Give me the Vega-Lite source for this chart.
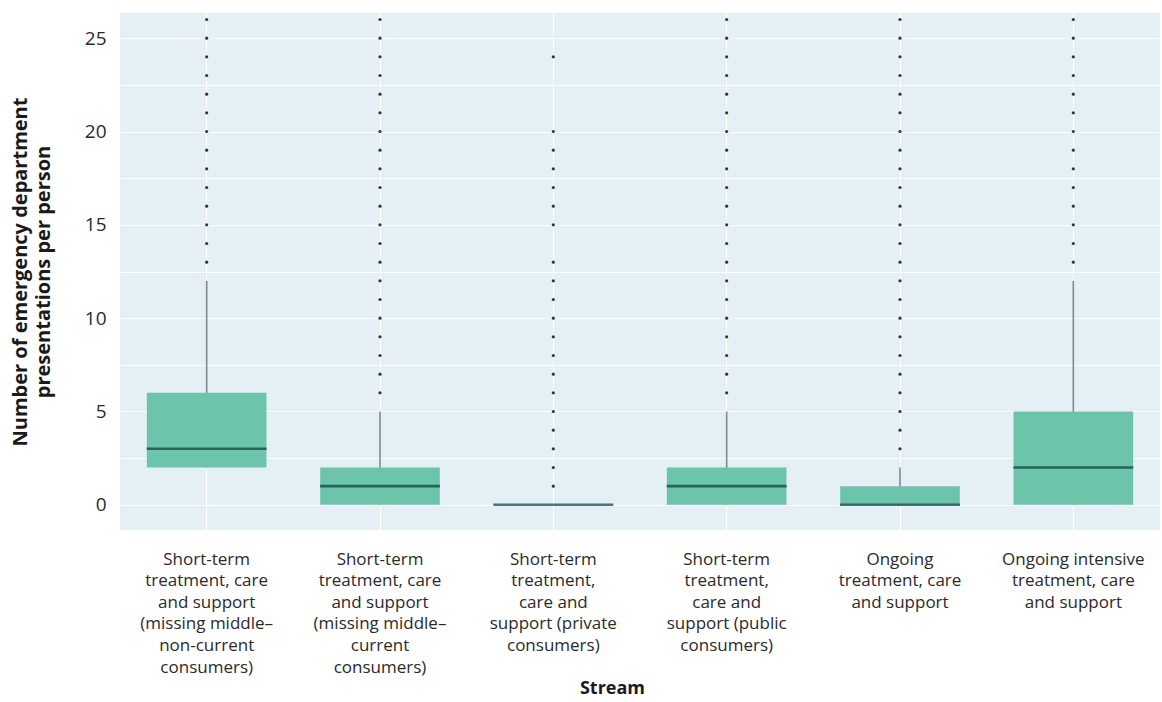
{
  "$schema": "https://vega.github.io/schema/vega-lite/v6.json",
  "width": 1040,
  "height": 517,
  "autosize": {"type": "none"},
  "padding": {"left": 120, "top": 13, "right": 2, "bottom": 172},
  "background": "white",
  "config": {"view": {"fill": "#e5eff6", "stroke": null}, "font": "Open Sans"},
  "datasets": {
    "boxes": [
      {"stream": "Short-term treatment, care and support (missing middle–non-current consumers)", "lower": 2, "q1": 2, "median": 3, "q3": 6, "upper": 12},
      {"stream": "Short-term treatment, care and support (missing middle–current consumers)", "lower": 0, "q1": 0, "median": 1, "q3": 2, "upper": 5},
      {"stream": "Short-term treatment, care and support (private consumers)", "lower": 0, "q1": 0, "median": 0, "q3": 0, "upper": 0},
      {"stream": "Short-term treatment, care and support (public consumers)", "lower": 0, "q1": 0, "median": 1, "q3": 2, "upper": 5},
      {"stream": "Ongoing treatment, care and support", "lower": 0, "q1": 0, "median": 0, "q3": 1, "upper": 2},
      {"stream": "Ongoing intensive treatment, care and support", "lower": 0, "q1": 0, "median": 2, "q3": 5, "upper": 12}
    ],
    "outliers": [
      {"stream": "Short-term treatment, care and support (missing middle–non-current consumers)", "value": 13},
      {"stream": "Short-term treatment, care and support (missing middle–non-current consumers)", "value": 14},
      {"stream": "Short-term treatment, care and support (missing middle–non-current consumers)", "value": 15},
      {"stream": "Short-term treatment, care and support (missing middle–non-current consumers)", "value": 16},
      {"stream": "Short-term treatment, care and support (missing middle–non-current consumers)", "value": 17},
      {"stream": "Short-term treatment, care and support (missing middle–non-current consumers)", "value": 18},
      {"stream": "Short-term treatment, care and support (missing middle–non-current consumers)", "value": 19},
      {"stream": "Short-term treatment, care and support (missing middle–non-current consumers)", "value": 20},
      {"stream": "Short-term treatment, care and support (missing middle–non-current consumers)", "value": 21},
      {"stream": "Short-term treatment, care and support (missing middle–non-current consumers)", "value": 22},
      {"stream": "Short-term treatment, care and support (missing middle–non-current consumers)", "value": 23},
      {"stream": "Short-term treatment, care and support (missing middle–non-current consumers)", "value": 24},
      {"stream": "Short-term treatment, care and support (missing middle–non-current consumers)", "value": 25},
      {"stream": "Short-term treatment, care and support (missing middle–non-current consumers)", "value": 26},
      {"stream": "Short-term treatment, care and support (missing middle–current consumers)", "value": 6},
      {"stream": "Short-term treatment, care and support (missing middle–current consumers)", "value": 7},
      {"stream": "Short-term treatment, care and support (missing middle–current consumers)", "value": 8},
      {"stream": "Short-term treatment, care and support (missing middle–current consumers)", "value": 9},
      {"stream": "Short-term treatment, care and support (missing middle–current consumers)", "value": 10},
      {"stream": "Short-term treatment, care and support (missing middle–current consumers)", "value": 11},
      {"stream": "Short-term treatment, care and support (missing middle–current consumers)", "value": 12},
      {"stream": "Short-term treatment, care and support (missing middle–current consumers)", "value": 13},
      {"stream": "Short-term treatment, care and support (missing middle–current consumers)", "value": 14},
      {"stream": "Short-term treatment, care and support (missing middle–current consumers)", "value": 15},
      {"stream": "Short-term treatment, care and support (missing middle–current consumers)", "value": 16},
      {"stream": "Short-term treatment, care and support (missing middle–current consumers)", "value": 17},
      {"stream": "Short-term treatment, care and support (missing middle–current consumers)", "value": 18},
      {"stream": "Short-term treatment, care and support (missing middle–current consumers)", "value": 19},
      {"stream": "Short-term treatment, care and support (missing middle–current consumers)", "value": 20},
      {"stream": "Short-term treatment, care and support (missing middle–current consumers)", "value": 21},
      {"stream": "Short-term treatment, care and support (missing middle–current consumers)", "value": 22},
      {"stream": "Short-term treatment, care and support (missing middle–current consumers)", "value": 23},
      {"stream": "Short-term treatment, care and support (missing middle–current consumers)", "value": 24},
      {"stream": "Short-term treatment, care and support (missing middle–current consumers)", "value": 25},
      {"stream": "Short-term treatment, care and support (missing middle–current consumers)", "value": 26},
      {"stream": "Short-term treatment, care and support (private consumers)", "value": 1},
      {"stream": "Short-term treatment, care and support (private consumers)", "value": 2},
      {"stream": "Short-term treatment, care and support (private consumers)", "value": 3},
      {"stream": "Short-term treatment, care and support (private consumers)", "value": 4},
      {"stream": "Short-term treatment, care and support (private consumers)", "value": 5},
      {"stream": "Short-term treatment, care and support (private consumers)", "value": 6},
      {"stream": "Short-term treatment, care and support (private consumers)", "value": 7},
      {"stream": "Short-term treatment, care and support (private consumers)", "value": 8},
      {"stream": "Short-term treatment, care and support (private consumers)", "value": 9},
      {"stream": "Short-term treatment, care and support (private consumers)", "value": 10},
      {"stream": "Short-term treatment, care and support (private consumers)", "value": 11},
      {"stream": "Short-term treatment, care and support (private consumers)", "value": 12},
      {"stream": "Short-term treatment, care and support (private consumers)", "value": 13},
      {"stream": "Short-term treatment, care and support (private consumers)", "value": 15},
      {"stream": "Short-term treatment, care and support (private consumers)", "value": 16},
      {"stream": "Short-term treatment, care and support (private consumers)", "value": 17},
      {"stream": "Short-term treatment, care and support (private consumers)", "value": 18},
      {"stream": "Short-term treatment, care and support (private consumers)", "value": 19},
      {"stream": "Short-term treatment, care and support (private consumers)", "value": 20},
      {"stream": "Short-term treatment, care and support (private consumers)", "value": 24},
      {"stream": "Short-term treatment, care and support (public consumers)", "value": 6},
      {"stream": "Short-term treatment, care and support (public consumers)", "value": 7},
      {"stream": "Short-term treatment, care and support (public consumers)", "value": 8},
      {"stream": "Short-term treatment, care and support (public consumers)", "value": 9},
      {"stream": "Short-term treatment, care and support (public consumers)", "value": 10},
      {"stream": "Short-term treatment, care and support (public consumers)", "value": 11},
      {"stream": "Short-term treatment, care and support (public consumers)", "value": 12},
      {"stream": "Short-term treatment, care and support (public consumers)", "value": 13},
      {"stream": "Short-term treatment, care and support (public consumers)", "value": 14},
      {"stream": "Short-term treatment, care and support (public consumers)", "value": 15},
      {"stream": "Short-term treatment, care and support (public consumers)", "value": 16},
      {"stream": "Short-term treatment, care and support (public consumers)", "value": 17},
      {"stream": "Short-term treatment, care and support (public consumers)", "value": 18},
      {"stream": "Short-term treatment, care and support (public consumers)", "value": 19},
      {"stream": "Short-term treatment, care and support (public consumers)", "value": 20},
      {"stream": "Short-term treatment, care and support (public consumers)", "value": 21},
      {"stream": "Short-term treatment, care and support (public consumers)", "value": 22},
      {"stream": "Short-term treatment, care and support (public consumers)", "value": 23},
      {"stream": "Short-term treatment, care and support (public consumers)", "value": 24},
      {"stream": "Short-term treatment, care and support (public consumers)", "value": 25},
      {"stream": "Short-term treatment, care and support (public consumers)", "value": 26},
      {"stream": "Ongoing treatment, care and support", "value": 3},
      {"stream": "Ongoing treatment, care and support", "value": 4},
      {"stream": "Ongoing treatment, care and support", "value": 5},
      {"stream": "Ongoing treatment, care and support", "value": 6},
      {"stream": "Ongoing treatment, care and support", "value": 7},
      {"stream": "Ongoing treatment, care and support", "value": 8},
      {"stream": "Ongoing treatment, care and support", "value": 9},
      {"stream": "Ongoing treatment, care and support", "value": 10},
      {"stream": "Ongoing treatment, care and support", "value": 11},
      {"stream": "Ongoing treatment, care and support", "value": 12},
      {"stream": "Ongoing treatment, care and support", "value": 13},
      {"stream": "Ongoing treatment, care and support", "value": 14},
      {"stream": "Ongoing treatment, care and support", "value": 15},
      {"stream": "Ongoing treatment, care and support", "value": 16},
      {"stream": "Ongoing treatment, care and support", "value": 17},
      {"stream": "Ongoing treatment, care and support", "value": 18},
      {"stream": "Ongoing treatment, care and support", "value": 19},
      {"stream": "Ongoing treatment, care and support", "value": 20},
      {"stream": "Ongoing treatment, care and support", "value": 21},
      {"stream": "Ongoing treatment, care and support", "value": 22},
      {"stream": "Ongoing treatment, care and support", "value": 23},
      {"stream": "Ongoing treatment, care and support", "value": 24},
      {"stream": "Ongoing treatment, care and support", "value": 25},
      {"stream": "Ongoing treatment, care and support", "value": 26},
      {"stream": "Ongoing intensive treatment, care and support", "value": 13},
      {"stream": "Ongoing intensive treatment, care and support", "value": 14},
      {"stream": "Ongoing intensive treatment, care and support", "value": 15},
      {"stream": "Ongoing intensive treatment, care and support", "value": 16},
      {"stream": "Ongoing intensive treatment, care and support", "value": 17},
      {"stream": "Ongoing intensive treatment, care and support", "value": 18},
      {"stream": "Ongoing intensive treatment, care and support", "value": 19},
      {"stream": "Ongoing intensive treatment, care and support", "value": 20},
      {"stream": "Ongoing intensive treatment, care and support", "value": 21},
      {"stream": "Ongoing intensive treatment, care and support", "value": 22},
      {"stream": "Ongoing intensive treatment, care and support", "value": 23},
      {"stream": "Ongoing intensive treatment, care and support", "value": 24},
      {"stream": "Ongoing intensive treatment, care and support", "value": 25},
      {"stream": "Ongoing intensive treatment, care and support", "value": 26}
    ]
  },
  "encoding": {
    "x": {
      "field": "stream",
      "type": "nominal",
      "scale": {
        "domain": [
          "Short-term treatment, care and support (missing middle–non-current consumers)",
          "Short-term treatment, care and support (missing middle–current consumers)",
          "Short-term treatment, care and support (private consumers)",
          "Short-term treatment, care and support (public consumers)",
          "Ongoing treatment, care and support",
          "Ongoing intensive treatment, care and support"
        ],
        "paddingInner": 0,
        "paddingOuter": 0
      },
      "axis": {
        "title": "Stream",
        "titleFontSize": 18,
        "titleFontWeight": "bold",
        "titleColor": "#1a1a1a",
        "titlePadding": 4,
        "titleX": 492,
        "labelAngle": 0,
        "labelFontSize": 17,
        "labelColor": "#2a2a2a",
        "labelLineHeight": 21.6,
        "labelPadding": 21,
        "labelBaseline": "top",
        "labelLimit": 0,
        "labelOverlap": false,
        "ticks": false,
        "domain": false,
        "grid": true,
        "gridColor": "#ffffff",
        "gridWidth": 1,
        "bandPosition": 0.5,
        "labelExpr": "({'Short-term treatment, care and support (missing middle–non-current consumers)': ['Short-term', 'treatment, care', 'and support', '(missing middle–', 'non-current', 'consumers)'], 'Short-term treatment, care and support (missing middle–current consumers)': ['Short-term', 'treatment, care', 'and support', '(missing middle–', 'current', 'consumers)'], 'Short-term treatment, care and support (private consumers)': ['Short-term', 'treatment,', 'care and', 'support (private', 'consumers)'], 'Short-term treatment, care and support (public consumers)': ['Short-term', 'treatment,', 'care and', 'support (public', 'consumers)'], 'Ongoing treatment, care and support': ['Ongoing', 'treatment, care', 'and support'], 'Ongoing intensive treatment, care and support': ['Ongoing intensive', 'treatment, care', 'and support']})[datum.label]"
      }
    }
  },
  "layer": [
    {
      "data": {"name": "boxes"},
      "mark": {"type": "rule", "color": "#7d8a90", "strokeWidth": 1.6},
      "encoding": {
        "y": {
          "field": "lower",
          "type": "quantitative",
          "scale": {"domain": [-1.35, 26.35], "nice": false, "zero": false},
          "axis": {
            "values": [0, 2.5, 5, 7.5, 10, 12.5, 15, 17.5, 20, 22.5, 25],
            "labelExpr": "datum.value % 5 === 0 ? datum.label : ''",
            "title": ["Number of emergency department", "presentations per person"],
            "titleFontSize": 20,
            "titleFontWeight": "bold",
            "titleColor": "#1a1a1a",
            "titleLineHeight": 23,
            "titlePadding": 31,
            "labelFontSize": 19,
            "labelColor": "#2a2a2a",
            "labelPadding": 14,
            "ticks": false,
            "domain": false,
            "grid": true,
            "gridColor": "#ffffff",
            "gridWidth": 1.2
          }
        },
        "y2": {"field": "upper"}
      }
    },
    {
      "data": {"name": "boxes"},
      "mark": {"type": "bar", "color": "#6cc5aa", "width": {"band": 0.69}},
      "encoding": {
        "y": {"field": "q1", "type": "quantitative"},
        "y2": {"field": "q3"}
      }
    },
    {
      "data": {"name": "boxes"},
      "mark": {"type": "tick", "color": "#0b3a3d", "thickness": 2.6, "size": 120},
      "encoding": {
        "y": {"field": "median", "type": "quantitative"}
      }
    },
    {
      "data": {"name": "outliers"},
      "mark": {"type": "point", "filled": true, "size": 10, "color": "#2b3a40", "opacity": 1},
      "encoding": {
        "y": {"field": "value", "type": "quantitative"}
      }
    }
  ]
}
